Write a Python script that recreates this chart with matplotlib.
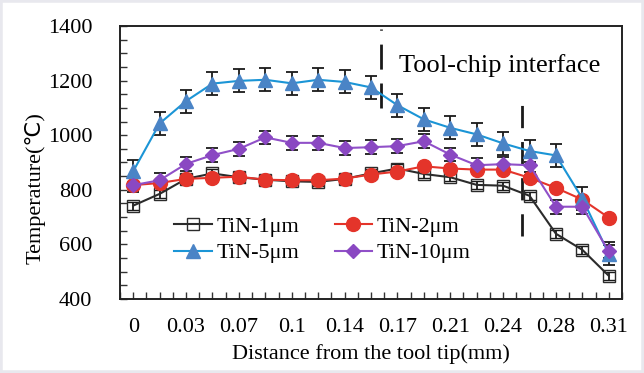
import matplotlib
matplotlib.use('Agg')
import matplotlib.pyplot as plt
import numpy as np
from matplotlib.patches import Rectangle

plt.rcParams['font.family'] = ['Liberation Serif', 'DejaVu Sans']
plt.rcParams['font.size'] = 16

# 19 points along the rake face, labels on every other point
x_labels = ['0', '0.03', '0.07', '0.1', '0.14', '0.17', '0.21', '0.24', '0.28', '0.31']

t_1um = [742, 785, 840, 860, 846, 837, 831, 829, 840, 860, 878, 858, 846, 818, 815, 778, 639, 580, 485]
t_2um = [817, 825, 840, 844, 848, 837, 835, 835, 841, 856, 867, 886, 878, 874, 874, 844, 807, 764, 698]
t_5um = [868, 1043, 1125, 1189, 1199, 1203, 1190, 1203, 1195, 1175, 1110, 1058, 1027, 1003, 970, 942, 926, 768, 565]
t_10um = [817, 835, 895, 927, 950, 992, 972, 972, 953, 956, 960, 978, 929, 890, 894, 890, 738, 738, 574]

err_1um = 15
err_2um = 10
err_5um = 42
err_10um = 25

# tool-chip interface bounds (point index) drawn as dashed markers
iface_start = 9.38
iface_end = 14.70

idx = np.arange(len(t_1um))

fig = plt.figure(figsize=(6.44, 3.73), dpi=100)
ax = fig.add_axes([120/644, 1-299/373, 502/644, 273/373])

ekw = dict(ecolor='#1a1a1a', elinewidth=1.3, capsize=4, capthick=1.3)
e1 = ax.errorbar(idx, t_1um, yerr=err_1um, color='#2b2b2b', lw=1.5, marker='s', ms=9,
                 mfc='none', mec='#2b2b2b', mew=1.0, **ekw)
e2 = ax.errorbar(idx, t_2um, yerr=err_2um, color='#e4342a', lw=1.5, marker='o', ms=10,
                 mfc='#e4342a', mec='#e4342a', **ekw)
e5 = ax.errorbar(idx, t_5um, yerr=err_5um, color='#1b95d6', lw=1.5, marker='^', ms=10,
                 mfc='#4a84c6', mec='#4a84c6', **ekw)
e10 = ax.errorbar(idx, t_10um, yerr=err_10um, color='#9050c8', lw=1.5, marker='D', ms=7.5,
                  mfc='#8a48c2', mec='#8a48c2', **ekw)

ax.plot([iface_start, iface_start], [1100, 1390], color='#1a1a1a', lw=2, dashes=(9, 5))
ax.plot([iface_end, iface_end], [630, 1110], color='#1a1a1a', lw=2, dashes=(8, 5))
ax.text(0.556, 0.8315, 'Tool-chip interface', transform=ax.transAxes, fontsize=19,
        va='baseline', ha='left')

ax.set_xlim(-0.5, len(idx) - 0.5)
ax.set_ylim(400, 1400)
ax.set_xticks(idx[::2])
ax.set_xticklabels(x_labels)
ax.set_xticks(np.arange(-0.5, len(idx), 0.5), minor=True)
ax.set_yticks(np.arange(400, 1401, 200))
ax.set_yticks(np.arange(400, 1401, 50), minor=True)
ax.tick_params(which='both', direction='in', length=5, width=1, color='#333333')
ax.tick_params(axis='x', pad=14, labelsize=16)
ax.tick_params(axis='y', pad=20, labelsize=16)
for s in ax.spines.values():
    s.set_linewidth(1.4)
    s.set_color('#222222')

ax.set_xlabel('Distance from the tool tip(mm)', fontsize=16)
ax.set_ylabel('Temperature(℃)', fontsize=16)
ax.xaxis.set_label_coords(0.5, -0.165)
ax.yaxis.set_label_coords(-0.148, 0.407)

# legend: row-wise order 1, 2 / 5, 10 (matplotlib fills columns first)
handles = [e1[0], e5[0], e2[0], e10[0]]
labels = ['TiN-1μm', 'TiN-5μm', 'TiN-2μm', 'TiN-10μm']
ax.legend(handles, labels, ncol=2, loc='center', bbox_to_anchor=(0.403, 0.216), frameon=False,
          handlelength=1.7, handletextpad=0.2, columnspacing=1.6,
          labelspacing=0.25, borderpad=0, fontsize=16)

fig.patches.append(Rectangle((0, 0), 1, 1, transform=fig.transFigure, fill=False,
                             edgecolor='#e8e8ee', lw=4, zorder=-1))

plt.savefig('out.png', dpi=100)
